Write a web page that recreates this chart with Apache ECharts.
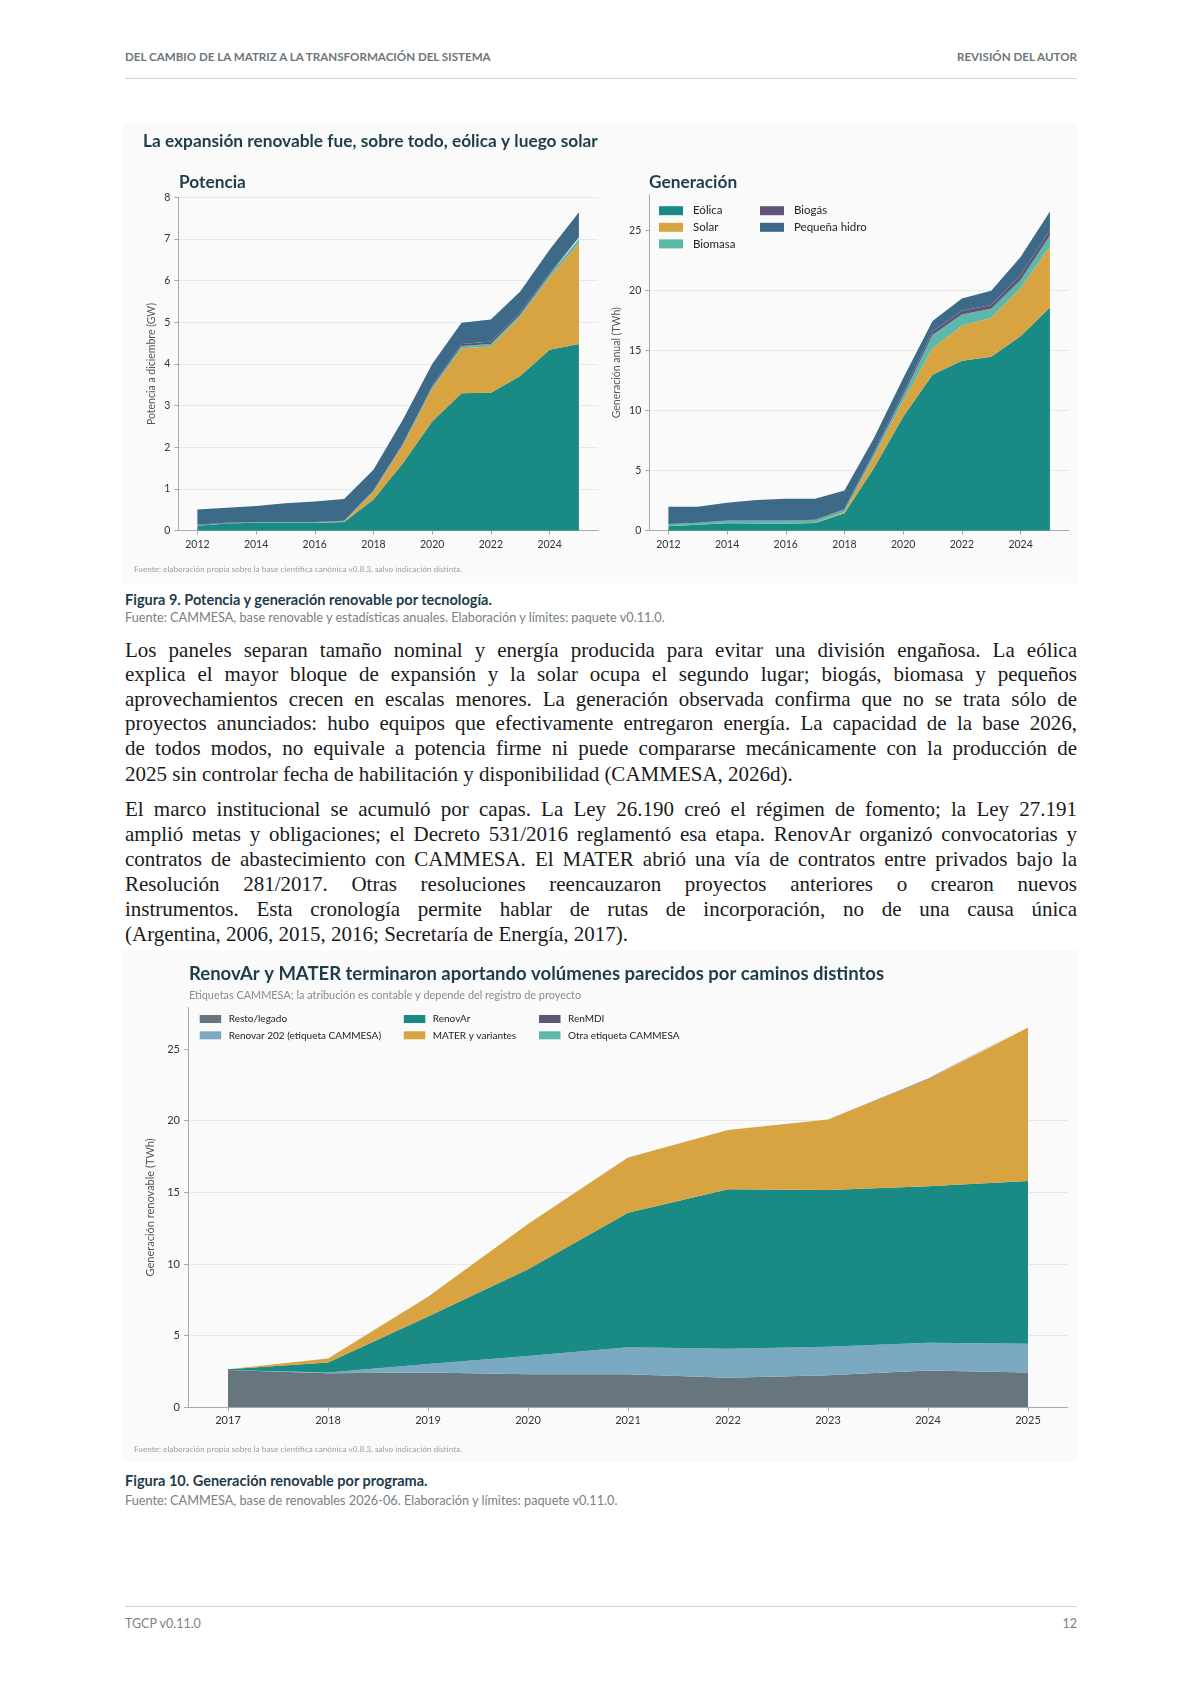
<!DOCTYPE html>
<html><head><meta charset="utf-8">
<script src="https://cdn.jsdelivr.net/npm/echarts@6/dist/echarts.min.js"></script>
<style>
html,body{margin:0;padding:0;background:#fff;}
body{width:1191px;height:1684px;position:relative;overflow:hidden;font-family:Lato,'Noto Sans',sans-serif;}
.abs{position:absolute;white-space:nowrap;}
.hdr{font-size:11.6px;color:#6d757a;font-weight:700;line-height:14px;}
.rule{position:absolute;left:125px;width:952px;height:1px;background:#cfd5d8;}
.cap{left:125px;font-size:14.5px;font-weight:700;color:#1f3b4a;line-height:17px;}
.src{left:125px;font-size:12.7px;color:#7a8084;line-height:16px;}
.ln{position:absolute;left:125px;width:952px;height:25px;line-height:25px;font-family:'Liberation Serif',serif;font-size:21px;color:#1a1a1a;text-align:justify;text-align-last:justify;}
.ln.last{text-align:left;text-align-last:left;}
.fig{position:absolute;left:123px;width:954px;background:#fafafa;}
</style></head>
<body>
<div class="abs hdr" style="left:125px;top:50px;">DEL CAMBIO DE LA MATRIZ A LA TRANSFORMACIÓN DEL SISTEMA</div>
<div class="abs hdr" style="right:114px;top:50px;">REVISIÓN DEL AUTOR</div>
<div class="rule" style="top:78px;"></div>

<div id="fig1" class="fig" style="top:123px;height:460px;"></div>

<div class="abs cap" style="top:591px;">Figura 9. Potencia y generación renovable por tecnología.</div>
<div class="abs src" style="top:609px;">Fuente: CAMMESA, base renovable y estadísticas anuales. Elaboración y límites: paquete v0.11.0.</div>

<div class="ln" style="top:637.5px;">Los paneles separan tamaño nominal y energía producida para evitar una división engañosa. La eólica</div>
<div class="ln" style="top:662px;">explica el mayor bloque de expansión y la solar ocupa el segundo lugar; biogás, biomasa y pequeños</div>
<div class="ln" style="top:686.5px;">aprovechamientos crecen en escalas menores. La generación observada confirma que no se trata sólo de</div>
<div class="ln" style="top:711.3px;">proyectos anunciados: hubo equipos que efectivamente entregaron energía. La capacidad de la base 2026,</div>
<div class="ln" style="top:736px;">de todos modos, no equivale a potencia firme ni puede compararse mecánicamente con la producción de</div>
<div class="ln last" style="top:761.5px;">2025 sin controlar fecha de habilitación y disponibilidad (CAMMESA, 2026d).</div>

<div class="ln" style="top:796.5px;">El marco institucional se acumuló por capas. La Ley 26.190 creó el régimen de fomento; la Ley 27.191</div>
<div class="ln" style="top:821.5px;">amplió metas y obligaciones; el Decreto 531/2016 reglamentó esa etapa. RenovAr organizó convocatorias y</div>
<div class="ln" style="top:847px;">contratos de abastecimiento con CAMMESA. El MATER abrió una vía de contratos entre privados bajo la</div>
<div class="ln" style="top:872px;">Resolución 281/2017. Otras resoluciones reencauzaron proyectos anteriores o crearon nuevos</div>
<div class="ln" style="top:896.5px;">instrumentos. Esta cronología permite hablar de rutas de incorporación, no de una causa única</div>
<div class="ln last" style="top:922px;">(Argentina, 2006, 2015, 2016; Secretaría de Energía, 2017).</div>

<div id="fig2" class="fig" style="top:950px;height:512px;"></div>

<div class="abs cap" style="top:1472px;">Figura 10. Generación renovable por programa.</div>
<div class="abs src" style="top:1492px;">Fuente: CAMMESA, base de renovables 2026-06. Elaboración y límites: paquete v0.11.0.</div>

<div class="rule" style="top:1606px;"></div>
<div class="abs" style="left:125px;top:1616px;font-size:12.5px;color:#7c8387;line-height:16px;">TGCP v0.11.0</div>
<div class="abs" style="right:114px;top:1616px;font-size:12.5px;color:#7c8387;line-height:16px;">12</div>

<script>
// ---------- Data: Figure 9 ----------
const yearsTech = [2012,2013,2014,2015,2016,2017,2018,2019,2020,2021,2022,2023,2024,2025];
const yearTickLabels = [2012,2014,2016,2018,2020,2022,2024];
const techNames = ['Eólica','Solar','Biomasa','Biogás','Pequeña hidro'];
// Potencia a diciembre (GW)
const potEolica  = [0.12,0.17,0.19,0.19,0.19,0.21,0.75,1.62,2.62,3.30,3.31,3.71,4.34,4.48];
const potSolar   = [0.00,0.00,0.00,0.00,0.00,0.01,0.18,0.42,0.78,1.08,1.11,1.43,1.74,2.42];
const potBiomasa = [0.01,0.01,0.01,0.01,0.01,0.01,0.02,0.03,0.04,0.05,0.06,0.05,0.06,0.10];
const potBiogas  = [0.01,0.01,0.01,0.01,0.01,0.01,0.02,0.02,0.03,0.05,0.06,0.05,0.04,0.04];
const potHidro   = [0.37,0.36,0.38,0.45,0.49,0.52,0.49,0.57,0.53,0.51,0.53,0.50,0.56,0.60];
// Generación anual (TWh)
const genEolica  = [0.38,0.50,0.62,0.60,0.58,0.65,1.45,5.20,9.50,13.00,14.17,14.50,16.20,18.60];
const genSolar   = [0.00,0.00,0.00,0.00,0.00,0.01,0.10,0.95,1.30,2.20,2.90,3.25,4.00,5.10];
const genBiomasa = [0.15,0.15,0.20,0.22,0.25,0.22,0.20,0.25,0.45,1.10,0.95,0.75,0.70,0.90];
const genBiogas  = [0.02,0.02,0.03,0.03,0.03,0.04,0.05,0.15,0.25,0.30,0.30,0.30,0.40,0.45];
const genHidro   = [1.45,1.33,1.48,1.70,1.81,1.75,1.56,1.15,1.20,0.87,1.04,1.20,1.50,1.55];
const potTicks = [0,1,2,3,4,5,6,7,8];
const genTicks = [0,5,10,15,20,25];

// ---------- Data: Figure 10 ----------
const yearsProg = [2017,2018,2019,2020,2021,2022,2023,2024,2025];
const progNames = ['Resto/legado','Renovar 202 (etiqueta CAMMESA)','RenovAr','MATER y variantes','RenMDI','Otra etiqueta CAMMESA'];
const progResto    = [2.60,2.37,2.42,2.30,2.30,2.07,2.23,2.56,2.42];
const progRenov202 = [0.00,0.05,0.60,1.28,1.89,2.02,2.00,1.95,2.02];
const progRenovAr  = [0.05,0.70,3.31,6.05,9.39,11.12,10.93,10.91,11.35];
const progMater    = [0.00,0.28,1.39,3.16,3.86,4.14,4.93,7.48,10.72];
const progRenMDI   = [0.00,0.00,0.00,0.00,0.00,0.00,0.00,0.03,0.12];
const progOtra     = [0.00,0.00,0.00,0.00,0.00,0.00,0.00,0.00,0.02];
const progTicks = [0,5,10,15,20,25];

// ---------- Styling ----------
const FONT = 'Lato';
const C = {eol:'#1a8a84', sol:'#d8a441', bio:'#5cb8a9', biog:'#5f5577', hid:'#3d6a88',
           resto:'#67767e', r202:'#7aa9c1'};
const axisGray = '#a5abaf', gridGray = '#e5e9ec', labelCol = '#333';

// rows are [value, year]; encode maps year to x so that the value column is the stacked one
function rows(xs, ys){ return xs.map((x,i)=>[ys[i], x]); }
function area(name, xs, ys, color, stack, xi, yi){
  return {type:'line', name, stack, xAxisIndex:xi, yAxisIndex:yi, data:rows(xs,ys),
    encode:{x:1, y:0},
    color, symbol:'none', smooth:false, silent:true,
    lineStyle:{width:0}, itemStyle:{color}, areaStyle:{color, opacity:1}};
}
function xAx(gi, min, max, ticks, fs){
  return {type:'value', gridIndex:gi, min, max, splitLine:{show:false},
    axisLine:{show:true, onZero:false, lineStyle:{color:axisGray, width:1}},
    axisTick:{show:true, length:4, lineStyle:{color:axisGray}, customValues:ticks},
    axisLabel:{customValues:ticks, color:labelCol, fontSize:fs, fontFamily:FONT, margin:8, formatter:v=>String(v)}};
}
function yAx(gi, max, interval, ticks, name, gap, fs){
  return {type:'value', gridIndex:gi, min:0, max, interval,
    axisLine:{show:true, lineStyle:{color:axisGray, width:1}},
    axisTick:{show:true, length:4, lineStyle:{color:axisGray}, customValues:ticks},
    axisLabel:{customValues:ticks, color:labelCol, fontSize:fs, fontFamily:FONT, margin:8},
    splitLine:{show:true, showMaxLine:(ticks[ticks.length-1]===max), lineStyle:{color:gridGray, width:1}},
    name, nameLocation:'middle', nameGap:gap,
    nameTextStyle:{fontSize:fs, color:'#555', fontFamily:FONT}};
}
function txt(x, y, text, font, fill){
  return {type:'text', x, y, silent:true, style:{text, font, fill, textAlign:'left', textVerticalAlign:'middle'}};
}
function legendCol(left, top, data, opts){
  return Object.assign({show:true, orient:'vertical', left, top, padding:0, data,
    icon:'rect', selectedMode:false,
    textStyle:{fontFamily:FONT, color:'#222', fontSize:11.5, lineHeight:13, padding:[0,0,0,5]},
    itemWidth:24, itemHeight:9, itemGap:3.6}, opts||{});
}

// ---------- Figure 9 ----------
const c1 = echarts.init(document.getElementById('fig1'));
c1.setOption({
  animation:false,
  backgroundColor:'#fafafa',
  grid:[
    {left:55.3, top:74.3, width:419.7, height:333.4},
    {left:526.3, top:71.7, width:419.7, height:336}
  ],
  xAxis:[xAx(0, 2011.35, 2025.65, yearTickLabels, 10.5), xAx(1, 2011.35, 2025.65, yearTickLabels, 10.5)],
  yAxis:[
    yAx(0, 8, 1, potTicks, 'Potencia a diciembre (GW)', 21, 10.5),
    yAx(1, 28, 5, genTicks, 'Generación anual (TWh)', 27, 10.5)
  ],
  legend:[
    legendCol(536, 81.2, [techNames[0], techNames[1], techNames[2]]),
    legendCol(637, 81.2, [techNames[3], techNames[4]])
  ],
  series:[
    area(techNames[0], yearsTech, potEolica, C.eol, 'p', 0, 0),
    area(techNames[1], yearsTech, potSolar, C.sol, 'p', 0, 0),
    area(techNames[2], yearsTech, potBiomasa, C.bio, 'p', 0, 0),
    area(techNames[3], yearsTech, potBiogas, C.biog, 'p', 0, 0),
    area(techNames[4], yearsTech, potHidro, C.hid, 'p', 0, 0),
    area(techNames[0], yearsTech, genEolica, C.eol, 'g', 1, 1),
    area(techNames[1], yearsTech, genSolar, C.sol, 'g', 1, 1),
    area(techNames[2], yearsTech, genBiomasa, C.bio, 'g', 1, 1),
    area(techNames[3], yearsTech, genBiogas, C.biog, 'g', 1, 1),
    area(techNames[4], yearsTech, genHidro, C.hid, 'g', 1, 1)
  ],
  graphic:[
    txt(20, 18, 'La expansión renovable fue, sobre todo, eólica y luego solar', 'bold 17.3px Lato', '#1d3d4b'),
    txt(56, 59, 'Potencia', 'bold 17.3px Lato', '#1d3d4b'),
    txt(526, 59, 'Generación', 'bold 17.3px Lato', '#1d3d4b'),
    txt(11, 446, 'Fuente: elaboración propia sobre la base científica canónica v0.8.3, salvo indicación distinta.', '8.2px Lato', '#9a9ea1')
  ]
});

// ---------- Figure 10 ----------
const c2 = echarts.init(document.getElementById('fig2'));
const legOpts2 = {itemWidth:21.5, itemHeight:8, itemGap:4.3,
  textStyle:{fontFamily:FONT, color:'#222', fontSize:10, lineHeight:12, padding:[0,0,0,2.5]}};
c2.setOption({
  animation:false,
  backgroundColor:'#fafafa',
  grid:[{left:65, top:57.5, width:880, height:399.8}],
  xAxis:[xAx(0, 2016.6, 2025.4, yearsProg, 11)],
  yAxis:[yAx(0, 27.9, 5, progTicks, 'Generación renovable (TWh)', 25, 11)],
  legend:[
    legendCol(76.7, 63, [progNames[0], progNames[1]], legOpts2),
    legendCol(280.8, 63, [progNames[2], progNames[3]], legOpts2),
    legendCol(416, 63, [progNames[4], progNames[5]], legOpts2)
  ],
  series:[
    area(progNames[0], yearsProg, progResto, C.resto, 'r', 0, 0),
    area(progNames[1], yearsProg, progRenov202, C.r202, 'r', 0, 0),
    area(progNames[2], yearsProg, progRenovAr, C.eol, 'r', 0, 0),
    area(progNames[3], yearsProg, progMater, C.sol, 'r', 0, 0),
    area(progNames[4], yearsProg, progRenMDI, C.biog, 'r', 0, 0),
    area(progNames[5], yearsProg, progOtra, C.bio, 'r', 0, 0)
  ],
  graphic:[
    txt(66, 24, 'RenovAr y MATER terminaron aportando volúmenes parecidos por caminos distintos', 'bold 18.5px Lato', '#1d3d4b'),
    txt(66, 45.5, 'Etiquetas CAMMESA; la atribución es contable y depende del registro de proyecto', '10.9px Lato', '#868b8f'),
    txt(11, 499, 'Fuente: elaboración propia sobre la base científica canónica v0.8.3, salvo indicación distinta.', '8.2px Lato', '#9a9ea1')
  ]
});
</script>
</body></html>
